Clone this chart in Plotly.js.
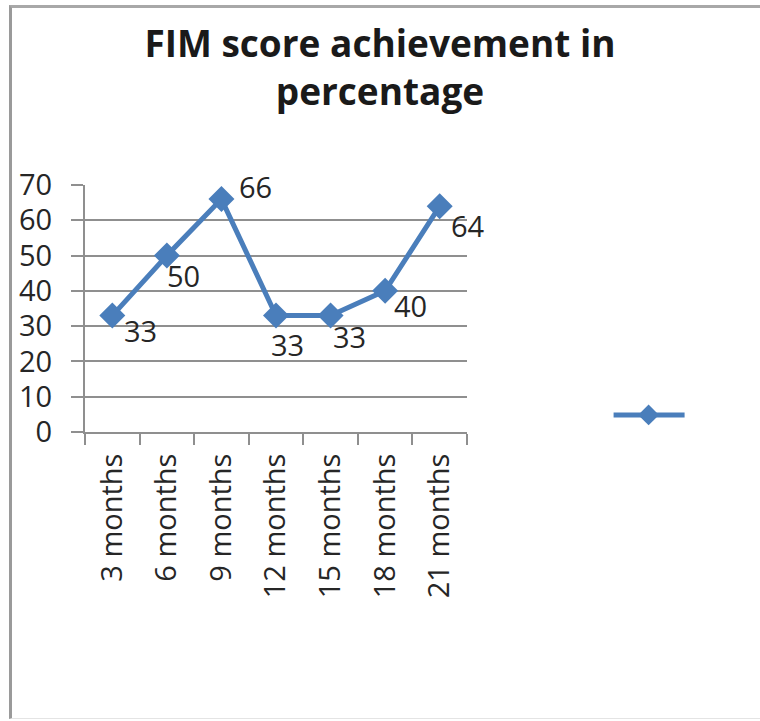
<!DOCTYPE html>
<html>
<head>
<meta charset="utf-8">
<script src="https://cdn.plot.ly/plotly-3.0.1.min.js"></script>
<style>
  html, body { margin: 0; padding: 0; background: #fff; }
  #wrap { position: relative; width: 760px; height: 721px; }
  #chart { width: 760px; height: 721px; }
  #frame { position: absolute; left: 9px; top: 5px; width: 760px; height: 714px;
           border-left: 3px solid #9a9a9a; border-top: 3px solid #a8a8a8;
           border-bottom: 1px solid #e4e4e4; pointer-events: none; box-sizing: border-box; }
</style>
</head>
<body>
<div id="wrap">
  <div id="chart"></div>
  <div id="frame"></div>
</div>
<script>
// ---- data ----
const categories = ["3 months", "6 months", "9 months", "12 months", "15 months", "18 months", "21 months"];
const scores = [33, 50, 66, 33, 33, 40, 64];
const yTicks = [0, 10, 20, 30, 40, 50, 60, 70];
const chartTitle = "FIM score achievement in<br>percentage";

// ---- label placement (pixel offsets, styling only) ----
const labelDx = [28, 17, 34, 11, 19, 25, 28];
const labelDy = [15, 20, -13, 29, 21, 15, 19];

const blue = "#4A7EBB";
const gridGray = "#8f8f8f";
const textCol = "#262626";
const font = "'Open Sans', 'Noto Sans', sans-serif";

const trace = {
  type: "scatter",
  mode: "lines+markers",
  x: categories,
  y: scores,
  name: "",
  showlegend: true,
  line: { color: blue, width: 5 },
  marker: { symbol: "diamond", size: 20, color: blue },
  hoverinfo: "skip"
};

const annotations = categories.map((c, i) => ({
  x: c, y: scores[i], xref: "x", yref: "y",
  text: String(scores[i]), showarrow: false,
  xshift: labelDx[i], yshift: -labelDy[i],
  font: { family: font, size: 29, color: textCol }
}));

const layout = {
  width: 760, height: 721,
  paper_bgcolor: "#ffffff", plot_bgcolor: "#ffffff",
  margin: { l: 85, r: 293, t: 185, b: 289, pad: 0 },
  title: {
    text: chartTitle,
    x: 0.5, xref: "container", xanchor: "center",
    y: 1 - 57 / 721, yref: "container", yanchor: "middle",
    font: { family: font, size: 37, color: "#1a1a1a", weight: "bold" }
  },
  xaxis: {
    type: "category",
    range: [-0.5, 6.5],
    tickangle: -90,
    tickson: "boundaries",
    ticks: "outside", ticklen: 11, tickwidth: 2, tickcolor: gridGray,
    showline: true, linecolor: gridGray, linewidth: 2,
    showgrid: false, zeroline: false,
    ticklabelstandoff: 8,
    tickfont: { family: font, size: 29, color: textCol },
    fixedrange: true
  },
  yaxis: {
    range: [0, 70],
    tickvals: yTicks,
    ticktext: yTicks.map(String),
    ticks: "outside", ticklen: 12, tickwidth: 2, tickcolor: gridGray,
    showline: true, linecolor: gridGray, linewidth: 2,
    showgrid: true, gridcolor: gridGray, gridwidth: 2,
    zeroline: false,
    ticklabelstandoff: 13,
    tickfont: { family: font, size: 29, color: textCol },
    fixedrange: true
  },
  showlegend: true,
  legend: {
    x: 1.423, xanchor: "left", xref: "paper",
    y: 0.069, yanchor: "middle", yref: "paper",
    bgcolor: "rgba(0,0,0,0)", borderwidth: 0,
    font: { family: font, size: 20, color: textCol },
    itemwidth: 30
  },
  annotations: annotations
};

Plotly.newPlot("chart", [trace], layout, { displayModeBar: false, staticPlot: true }).then(gd => {
  // widen the legend sample line to match the reference's longer key
  gd.querySelectorAll(".legend [clip-path]").forEach(el => el.removeAttribute("clip-path"));
  gd.querySelectorAll(".legend .legendlines path").forEach(p => {
    p.setAttribute("d", "M-15,0h71");
    p.style.strokeWidth = "5px";
  });
});
</script>
</body>
</html>
